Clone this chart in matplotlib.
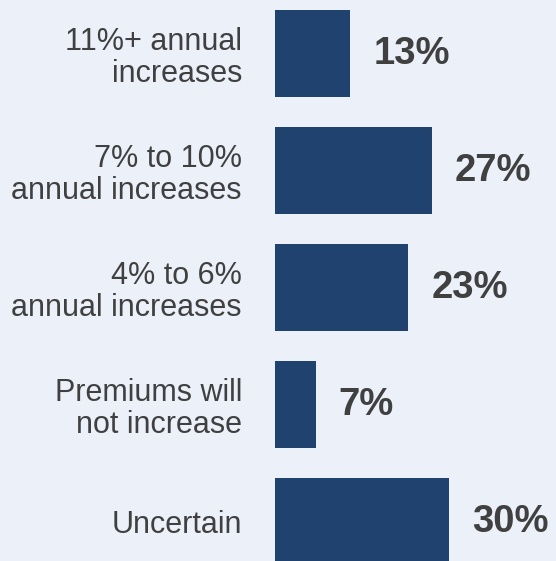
import matplotlib
matplotlib.use("Agg")
import matplotlib.pyplot as plt

categories = ["11%+ annual\nincreases", "7% to 10%\nannual increases", "4% to 6%\nannual increases",
              "Premiums will\nnot increase", "Uncertain"]
values = [13, 27, 23, 7, 30]
value_labels = ["13%", "27%", "23%", "7%", "30%"]

BG = "#ECF0F9"
BAR = "#20426F"
TXT = "#404040"

plt.rcParams['font.family'] = ['Liberation Sans', 'DejaVu Sans']

fig = plt.figure(figsize=(5.56, 5.61), dpi=100, facecolor=BG)
ax = fig.add_axes([275/556, 0, 281/556, 1], facecolor=BG)

pos = list(range(len(categories)))
ax.barh(pos, values, height=0.744, color=BAR)
ax.set_xlim(0, 281/5.8)
ax.set_ylim((561-53.5)/117, -53.5/117)

ax.set_yticks(pos)
ax.set_yticklabels(categories, fontsize=22, color=TXT, linespacing=1.08, ha='right')
ax.tick_params(axis='y', length=0, pad=23.8)
ax.set_xticks([])
for s in ax.spines.values():
    s.set_visible(False)

for p, v, lab in zip(pos, values, value_labels):
    ax.annotate(lab, xy=(v, p), xytext=(16.6, 0), textcoords='offset points',
                va='center', ha='left', fontsize=27.5, fontweight='bold', color=TXT,
                annotation_clip=False)

fig.savefig("out.png", dpi=100, facecolor=BG)
